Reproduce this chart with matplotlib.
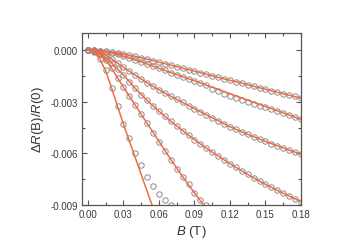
import matplotlib
matplotlib.use("Agg")
import matplotlib.pyplot as plt
from matplotlib.ticker import MultipleLocator, FuncFormatter
import numpy as np

# field values of the measured points (T)
b_meas = [round(0.005 * i, 3) for i in range(37)]

# measured dR/R0, in units of 1e-3 (sign applied below)
meas_1 = [0.00, 0.01, 0.03, 0.07, 0.12, 0.17, 0.23, 0.29, 0.36, 0.44, 0.52, 0.61,
          0.70, 0.78, 0.87, 0.96, 1.05, 1.13, 1.22, 1.31, 1.40, 1.49, 1.58, 1.66,
          1.75, 1.87, 1.92, 2.01, 2.08, 2.18, 2.27, 2.36, 2.45, 2.56, 2.62, 2.68, 2.79]
meas_2 = [0.00, 0.01, 0.04, 0.09, 0.16, 0.25, 0.35, 0.46, 0.57, 0.69, 0.81, 0.93,
          1.05, 1.17, 1.30, 1.42, 1.54, 1.66, 1.78, 1.90, 2.03, 2.27, 2.40, 2.52,
          2.66, 2.78, 2.90, 3.02, 3.13, 3.24, 3.33, 3.42, 3.52, 3.65, 3.77, 3.89, 4.02]
meas_3 = [0.00, 0.03, 0.12, 0.28, 0.50, 0.75, 1.00, 1.23, 1.45, 1.68, 1.90, 2.10,
          2.30, 2.49, 2.68, 2.86, 3.04, 3.22, 3.40, 3.58, 3.76, 3.93, 4.10, 4.28,
          4.45, 4.60, 4.75, 4.89, 5.03, 5.17, 5.30, 5.43, 5.56, 5.69, 5.81, 5.93, 6.05]
meas_4 = [0.00, 0.05, 0.20, 0.45, 0.75, 1.08, 1.45, 1.85, 2.22, 2.58, 2.92, 3.24,
          3.55, 3.85, 4.13, 4.41, 4.68, 4.94, 5.20, 5.45, 5.70, 5.93, 6.15, 6.38,
          6.60, 6.81, 7.02, 7.22, 7.42, 7.61, 7.80, 7.98, 8.15, 8.32, 8.48, 8.64, 8.80]
meas_5 = [0.00, 0.06, 0.25, 0.58, 1.05, 1.60, 2.15, 2.68, 3.20, 3.72, 4.25, 4.80,
          5.35, 5.85, 6.40, 6.90, 7.35, 7.80, 8.30, 8.70, 9.00]
meas_6 = [0.00, 0.12, 0.52, 1.14, 2.20, 3.25, 4.30, 5.10, 6.00, 6.70, 7.40, 7.90,
          8.35, 8.70, 9.00]

# fitted curves, same units
b_fit = [0.0, 0.005, 0.01, 0.015, 0.02, 0.025, 0.03, 0.04, 0.05, 0.06, 0.07, 0.08,
         0.09, 0.10, 0.11, 0.12, 0.13, 0.14, 0.15, 0.16, 0.17, 0.18]
fit_1 = [0, 0.01, 0.03, 0.07, 0.12, 0.17, 0.23, 0.36, 0.52, 0.70, 0.87, 1.05,
         1.22, 1.40, 1.58, 1.75, 1.92, 2.10, 2.27, 2.45, 2.62, 2.79]
fit_2 = [0, 0.01, 0.04, 0.09, 0.16, 0.25, 0.35, 0.57, 0.81, 1.05, 1.30, 1.54,
         1.78, 2.03, 2.28, 2.53, 2.78, 3.03, 3.28, 3.52, 3.77, 4.02]
fit_3 = [0, 0.03, 0.12, 0.28, 0.50, 0.75, 1.00, 1.45, 1.90, 2.30, 2.68, 3.04,
         3.40, 3.76, 4.10, 4.45, 4.75, 5.03, 5.30, 5.56, 5.81, 6.05]
fit_4 = [0, 0.05, 0.20, 0.45, 0.75, 1.08, 1.45, 2.22, 2.92, 3.55, 4.13, 4.68,
         5.20, 5.70, 6.15, 6.60, 7.02, 7.42, 7.80, 8.15, 8.48, 8.80]
fit_5 = [0, 0.06, 0.25, 0.58, 1.05, 1.60, 2.15, 3.20, 4.25, 5.30, 6.35, 7.35,
         8.30, 9.20]
fit_6 = [0, 0.12, 0.50, 1.20, 2.20, 3.25, 4.30, 6.25, 8.20, 10.10]

meas = [meas_1, meas_2, meas_3, meas_4, meas_5, meas_6]
fits = [fit_1, fit_2, fit_3, fit_4, fit_5, fit_6]

plt.rcParams['axes.unicode_minus'] = False
plt.rcParams['font.family'] = ['Liberation Sans', 'DejaVu Sans']
plt.rcParams['mathtext.fontset'] = 'custom'
plt.rcParams['mathtext.it'] = 'Liberation Sans:italic'
plt.rcParams['mathtext.rm'] = 'Liberation Sans'

gris = '#555555'
naranja = '#f26a45'

fig = plt.figure(figsize=(3.62, 2.53), dpi=100)
ax = fig.add_axes([0.2265, 0.1858, 0.605, 0.680])

for ys, yf in zip(meas, fits):
    ax.plot(b_meas[:len(ys)], -np.array(ys) * 1e-3, 'o', ms=3.9, mfc='none',
            mec='#8c8c8c', mew=0.7, zorder=2)
    ax.plot(b_fit[:len(yf)], -np.array(yf) * 1e-3, '-', color=naranja, lw=1.1,
            zorder=3)

ax.set_xlim(-0.005, 0.18)
ax.set_ylim(-0.009, 0.001)
ax.set_xticks([0.0, 0.03, 0.06, 0.09, 0.12, 0.15, 0.18])
ax.set_yticks([0.0, -0.003, -0.006, -0.009])
ax.xaxis.set_minor_locator(MultipleLocator(0.015))
ax.yaxis.set_minor_locator(MultipleLocator(0.0015))
ax.xaxis.set_major_formatter(FuncFormatter(lambda v, p: f"{v:.2f}"))
ax.yaxis.set_major_formatter(FuncFormatter(lambda v, p: "0.000" if abs(v) < 1e-9 else f"{v:.3f}"))

ax.tick_params(which='both', direction='in', top=True, right=True,
               color=gris, labelcolor='#3a3a3a', labelsize=7, width=0.8)
ax.tick_params(which='major', length=3.5, pad=3)
ax.tick_params(which='minor', length=2)
for s in ax.spines.values():
    s.set_color(gris)
    s.set_linewidth(0.9)

ax.set_xlabel(r'$B$ (T)', fontsize=9.5, color='#333333', labelpad=3)
ax.set_ylabel(r'$\Delta R$(B)/$R$(0)', fontsize=9.5, color='#333333', labelpad=3)

plt.savefig('out.png', dpi=100)
